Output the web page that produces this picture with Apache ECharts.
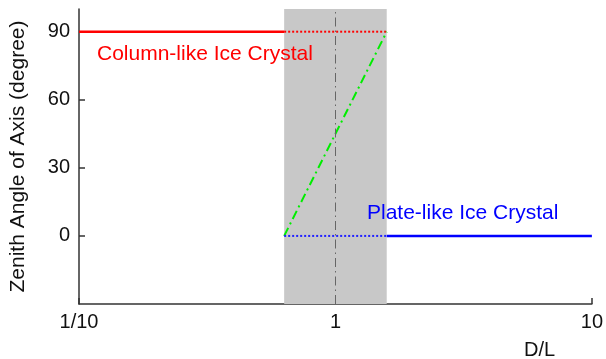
<!DOCTYPE html>
<html>
<head>
<meta charset="utf-8">
<script src="https://cdn.jsdelivr.net/npm/echarts@6/dist/echarts.min.js"></script>
<style>
  html, body { margin: 0; padding: 0; background: #fff; }
  #chart { width: 606px; height: 359px; }
</style>
</head>
<body>
<div id="chart"></div>
<script>
// D/L (diameter over length) range and the transition band around D/L = 1
const dlRange = [0.1, 10];
const bandLimits = [0.631, 1.585];
const centerDL = 1;

// Zenith angle of the crystal axis (degrees)
const yRange = [-30, 100];
const yTicks = [0, 30, 60, 90];

// Column-like crystals: axis horizontal (90 degrees)
const columnSolidX = [0.1, 0.631];
const columnSolidY = [90, 90];
const columnDottedX = [0.631, 1.585];
const columnDottedY = [90, 90];

// Transition: angle rises across the band
const transitionX = [0.631, 1.585];
const transitionY = [0, 90];

// Plate-like crystals: axis vertical (0 degrees)
const plateDottedX = [0.631, 1.585];
const plateDottedY = [0, 0];
const plateSolidX = [1.585, 10];
const plateSolidY = [0, 0];

const labels = ['Column-like Ice Crystal', 'Plate-like Ice Crystal'];

const pairs = (xs, ys) => xs.map((x, i) => [x, ys[i]]);
const FONT = '"Liberation Sans", Arial, Helvetica, sans-serif';

const chart = echarts.init(document.getElementById('chart'), null, { renderer: 'canvas' });

chart.setOption({
  animation: false,
  backgroundColor: '#ffffff',
  grid: { left: 77, right: 14, top: 9, bottom: 55 },
  xAxis: {
    type: 'log',
    logBase: 10,
    min: dlRange[0],
    max: dlRange[1],
    axisLine: { show: true, onZero: false, lineStyle: { color: '#333', width: 1.5 } },
    axisTick: { show: true, inside: true, length: 6, lineStyle: { color: '#333', width: 1.5 } },
    axisLabel: {
      margin: 8,
      color: '#111',
      fontSize: 20,
      fontFamily: FONT,
      formatter: v => (Math.abs(v - 0.1) < 1e-9 ? '1/10' : String(Math.round(v)))
    },
    splitLine: { show: false },
    minorTick: { show: false }
  },
  yAxis: {
    type: 'value',
    min: yRange[0],
    max: yRange[1],
    name: 'Zenith Angle of Axis (degree)',
    nameLocation: 'middle',
    nameRotate: 90,
    nameGap: 50,
    nameTextStyle: { color: '#111', fontSize: 21, fontFamily: FONT },
    axisLine: { show: true, onZero: false, lineStyle: { color: '#333', width: 1.5 } },
    axisTick: { show: true, inside: true, length: 6, customValues: yTicks, lineStyle: { color: '#333', width: 1.5 } },
    axisLabel: { margin: 9, color: '#111', fontSize: 20, fontFamily: FONT, customValues: yTicks },
    splitLine: { show: false }
  },
  series: [
    {
      name: 'band',
      type: 'line',
      data: [],
      silent: true,
      z: 1,
      markArea: {
        silent: true,
        itemStyle: { color: '#c8c8c8' },
        data: [[{ xAxis: bandLimits[0] }, { xAxis: bandLimits[1] }]]
      }
    },
    {
      name: 'center',
      type: 'line',
      data: [],
      silent: true,
      z: 2,
      markLine: {
        silent: true,
        symbol: 'none',
        label: { show: false },
        lineStyle: { color: '#666', width: 1, type: [9, 4, 1.5, 4] },
        data: [{ xAxis: centerDL }]
      }
    },
    {
      name: 'columnSolid',
      type: 'line',
      data: pairs(columnSolidX, columnSolidY),
      showSymbol: false,
      z: 3,
      lineStyle: { color: '#ff0000', width: 2.5 }
    },
    {
      name: 'columnDotted',
      type: 'line',
      data: pairs(columnDottedX, columnDottedY),
      showSymbol: false,
      z: 3,
      lineStyle: { color: '#ff0000', width: 2, type: [2, 2] }
    },
    {
      name: 'transition',
      type: 'line',
      data: pairs(transitionX, transitionY),
      showSymbol: false,
      z: 3,
      lineStyle: { color: '#00ee00', width: 2, type: [9, 4, 2, 4] }
    },
    {
      name: 'plateDotted',
      type: 'line',
      data: pairs(plateDottedX, plateDottedY),
      showSymbol: false,
      z: 3,
      lineStyle: { color: '#2020ff', width: 2, type: [2, 2] }
    },
    {
      name: 'plateSolid',
      type: 'line',
      data: pairs(plateSolidX, plateSolidY),
      showSymbol: false,
      z: 3,
      lineStyle: { color: '#0000ff', width: 2.5 }
    }
  ],
  graphic: [
    {
      type: 'text',
      z: 100,
      left: 97,
      top: 44,
      style: { text: labels[0], fill: '#ff0000', font: '21px ' + FONT }
    },
    {
      type: 'text',
      z: 100,
      left: 367,
      top: 203,
      style: { text: labels[1], fill: '#0000ff', font: '21px ' + FONT }
    },
    {
      type: 'text',
      z: 100,
      left: 524,
      top: 340,
      style: { text: 'D/L', fill: '#111', font: '20px ' + FONT }
    }
  ]
});
</script>
</body>
</html>
